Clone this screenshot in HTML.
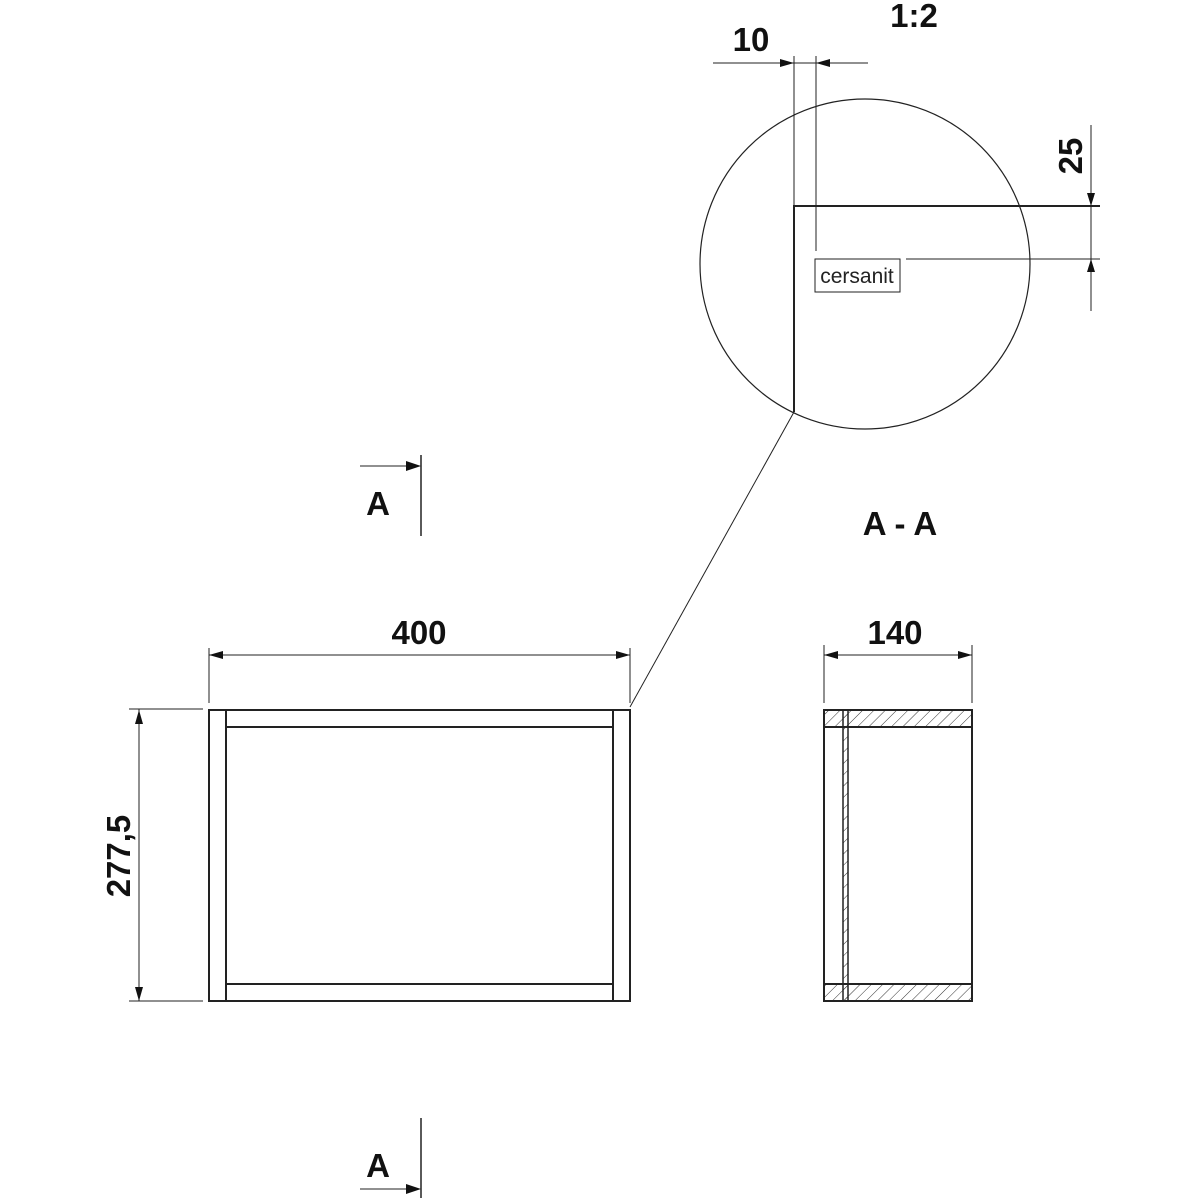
<!DOCTYPE html>
<html><head><style>html,body{margin:0;padding:0;background:#fff}svg{display:block}</style></head>
<body>
<svg width="1200" height="1200" viewBox="0 0 1200 1200" xmlns="http://www.w3.org/2000/svg" font-family="Liberation Sans, sans-serif">
<defs>
<pattern id="h" patternUnits="userSpaceOnUse" width="8" height="8" patternTransform="rotate(45)">
<line x1="0" y1="0" x2="0" y2="8" stroke="#333" stroke-width="1"/>
</pattern>
</defs>
<g stroke="#222" fill="none">
<!-- detail circle -->
<circle cx="865" cy="264" r="165" stroke-width="1.2"/>
<polyline points="794,412 794,206 1100,206" stroke-width="2"/>
<line x1="794" y1="56" x2="794" y2="206" stroke-width="1"/>
<line x1="816" y1="56" x2="816" y2="251" stroke-width="1"/>
<line x1="713" y1="63" x2="868" y2="63" stroke-width="1"/>
<rect x="815" y="259" width="85" height="33" stroke-width="1"/>
<line x1="906" y1="259" x2="1100" y2="259" stroke-width="1"/>
<line x1="1091" y1="125" x2="1091" y2="311" stroke-width="1"/>
<line x1="794" y1="412" x2="630" y2="707" stroke-width="1"/>
<!-- section markers -->
<line x1="421" y1="455" x2="421" y2="536" stroke-width="1.5"/>
<line x1="360" y1="466" x2="410" y2="466" stroke-width="1"/>
<line x1="421" y1="1118" x2="421" y2="1198" stroke-width="1.5"/>
<line x1="360" y1="1189" x2="410" y2="1189" stroke-width="1"/>
<!-- front view dims -->
<line x1="209" y1="648" x2="209" y2="703" stroke-width="1"/>
<line x1="630" y1="648" x2="630" y2="703" stroke-width="1"/>
<line x1="209" y1="655" x2="630" y2="655" stroke-width="1"/>
<line x1="129" y1="709" x2="203" y2="709" stroke-width="1"/>
<line x1="129" y1="1001" x2="203" y2="1001" stroke-width="1"/>
<line x1="139" y1="709" x2="139" y2="1001" stroke-width="1"/>
<!-- front view -->
<rect x="209" y="710" width="17" height="291" stroke-width="2"/>
<rect x="613" y="710" width="17" height="291" stroke-width="2"/>
<rect x="226" y="710" width="387" height="17" stroke-width="2"/>
<rect x="226" y="984" width="387" height="17" stroke-width="2"/>
<!-- side view dims -->
<line x1="824" y1="645" x2="824" y2="703" stroke-width="1"/>
<line x1="972" y1="645" x2="972" y2="703" stroke-width="1"/>
<line x1="824" y1="655" x2="972" y2="655" stroke-width="1"/>
<!-- side view -->
<rect x="824" y="710" width="148" height="17" fill="url(#h)" stroke-width="2"/>
<rect x="824" y="984" width="148" height="17" fill="url(#h)" stroke-width="2"/>
<rect x="843" y="710" width="5" height="291" fill="url(#h)" stroke-width="1.5"/>
<rect x="824" y="710" width="148" height="291" stroke-width="2"/>
</g>
<g fill="#111">
<polygon points="794,63 780,59 780,67"/>
<polygon points="816,63 830,59 830,67"/>
<polygon points="1091,206 1087,193 1095,193"/>
<polygon points="1091,259 1087,272 1095,272"/>
<polygon points="421,466 406,461 406,471"/>
<polygon points="421,1189 406,1184 406,1194"/>
<polygon points="209,655 223,651 223,659"/>
<polygon points="630,655 616,651 616,659"/>
<polygon points="139,710 135,724 143,724"/>
<polygon points="139,1001 135,987 143,987"/>
<polygon points="824,655 838,651 838,659"/>
<polygon points="972,655 958,651 958,659"/>
</g>
<g fill="#111" font-size="33" font-weight="bold" text-anchor="middle">
<text x="751" y="51">10</text>
<text x="914" y="27">1:2</text>
<text transform="translate(1082,156) rotate(-90)">25</text>
<text x="378" y="515">A</text>
<text x="378" y="1177">A</text>
<text x="900" y="535">A - A</text>
<text x="419" y="644">400</text>
<text x="895" y="644">140</text>
<text transform="translate(130,856) rotate(-90)">277,5</text>
</g>
<text x="857" y="283" font-size="21" text-anchor="middle" fill="#222">cersanit</text>
</svg>
</body></html>
